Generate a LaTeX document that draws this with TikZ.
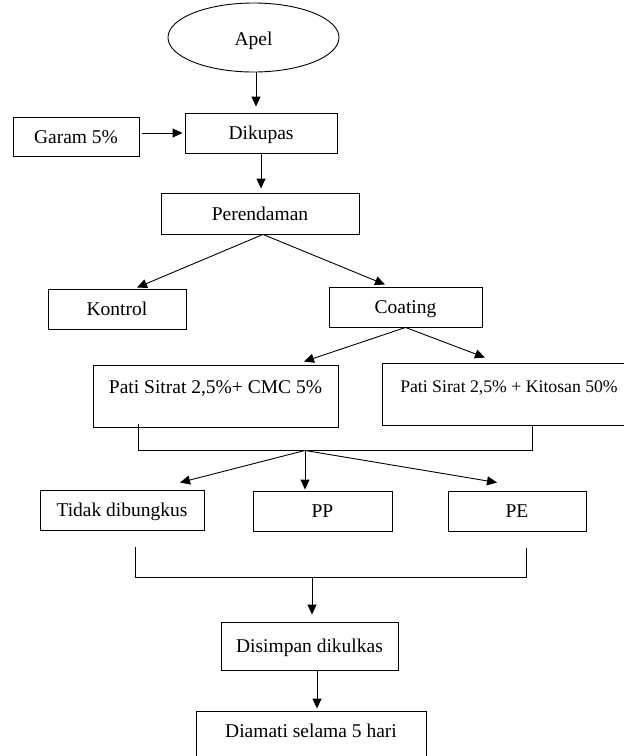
\documentclass[tikz,border=0pt]{standalone}
\usepackage{fontspec}
\setmainfont{Liberation Serif}
\usetikzlibrary{arrows.meta,shapes.geometric,calc}
\begin{document}
\begin{tikzpicture}[x=1pt,y=-1pt,
  box/.style={draw,rectangle,inner sep=0pt,line width=0.9pt,font=\fontsize{19.5}{22}\selectfont,text height=13pt,text depth=0pt},
  arr/.style={line width=0.9pt,-{Triangle[length=10pt,width=9pt]}},
  ln/.style={line width=0.9pt}]
\useasboundingbox (0,0) rectangle (624,756);
\clip (0,0) rectangle (624,756);
\fill[white] (0,0) rectangle (624,756);
\node[draw,ellipse,line width=0.9pt,minimum width=171pt,minimum height=69pt,inner sep=0pt,font=\fontsize{19.5}{22}\selectfont,text height=15pt,text depth=0pt] (apel) at (253.5,37.5) {Apel};
\node[box,minimum width=126pt,minimum height=39pt] (garam) at (76,136.5) {Garam 5\%};
\node[box,minimum width=152pt,minimum height=40pt] (dik) at (261,133) {Dikupas};
\node[box,minimum width=198pt,minimum height=41pt] (per) at (260,213.5) {Perendaman};
\node[box,minimum width=138pt,minimum height=40pt] (kon) at (117,309) {Kontrol};
\node[box,minimum width=153pt,minimum height=40pt] (coat) at (405.5,307) {Coating};
\node[box,minimum width=245pt,minimum height=62pt,text depth=19pt] (cmc) at (215.5,396) {Pati Sitrat 2,5\%+ CMC 5\%};
\node[box,minimum width=254pt,minimum height=62pt,font=\fontsize{17.7}{20}\selectfont,text height=12pt,text depth=16pt] (kit) at (509,394) {Pati Sirat 2,5\% + Kitosan 50\%};
\node[box,minimum width=164pt,minimum height=40pt] (tidak) at (122,510) {Tidak dibungkus};
\node[box,minimum width=139pt,minimum height=40pt] (pp) at (322.5,511) {PP};
\node[box,minimum width=138pt,minimum height=40pt] (pe) at (517,511) {PE};
\node[box,minimum width=177pt,minimum height=48pt] (dis) at (309.5,646) {Disimpan dikulkas};
\node[box,minimum width=230pt,minimum height=62pt,text depth=23pt] (dia) at (311,742) {Diamati selama 5 hari};
% connectors
\draw[arr] ($(apel.south)+(2.5,0)$) -- ($(dik.north)+(-5,-6)$);
\draw[arr] ($(garam.east |- dik.west)+(3,0)$) -- ($(dik.west)+(-2,0)$);
\draw[arr] (dik.south) -- ($(per.north -| dik.south)+(0,-4)$);
\coordinate (perB) at ($(per.south)+(3,0)$);
\draw[arr] (perB) -- ($(kon.north)+(20,-1)$);
\draw[arr] (perB) -- ($(coat.north)+(-20.5,-2)$);
\draw[arr] (coat.south) -- ($(cmc.north)+(88.5,-3)$);
\draw[arr] (coat.south) -- ($(kit.north)+(-24,-5)$);
\coordinate (j1) at ($(cmc.south)+(-77.5,23)$);
\coordinate (j2) at ($(kit.south)+(23,25)$);
\draw[ln] ($(cmc.south)+(-77.5,-3)$) -- (j1) -- (j2) -- ($(kit.south)+(23,0)$);
\coordinate (f1) at ($(j1)+(167,0)$);
\draw[arr] (f1) -- ($(tidak.north)+(58,-7)$);
\draw[arr] (f1) -- ($(pp.north)+(-17.5,-1)$);
\draw[arr] (f1) -- ($(pe.north)+(-20,-8)$);
\coordinate (k1) at ($(tidak.south)+(13,47)$);
\coordinate (k2) at ($(pe.south)+(9,46)$);
\draw[ln] ($(k1)+(0,-30)$) -- (k1) -- (k2) -- ($(k2)+(0,-29)$);
\coordinate (k3) at ($(k1)+(177,0)$);
\draw[arr] (k3) -- ($(dis.north)+(2.5,-7)$);
\draw[arr] ($(dis.south)+(7.5,0)$) -- ($(dia.north)+(6,-2)$);
\end{tikzpicture}
\end{document}
